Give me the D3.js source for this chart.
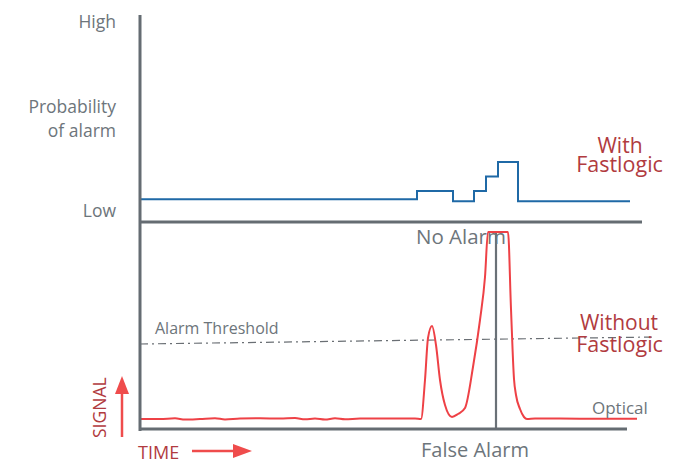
<!DOCTYPE html>
<html>
<head>
<meta charset="utf-8">
<script src="https://cdn.jsdelivr.net/npm/d3@7"></script>
<style>
  html, body { margin: 0; padding: 0; background: #fff; }
  svg { display: block; }
  text { font-family: "Open Sans", "Noto Sans", sans-serif; }
</style>
</head>
<body>
<svg id="chart" width="690" height="463"></svg>
<script>
// ---- data ----
// Probability of alarm with Fastlogic (step line): [time, probability]
const probTime  = [0, 55.4, 62.6, 66.8, 69.2, 71.6, 75.6, 98];
const probValue = [11, 15, 10, 15, 22, 29, 10, 10];

// Optical signal without Fastlogic: [time, signal]
const sigTime  = [0, 4, 7, 9, 12, 15, 17, 20, 24, 28, 31, 33, 35, 37, 39, 41, 44, 48, 52, 55, 56.2,
                  57, 57.6, 58.4, 59.2, 60, 61, 62.4, 63.6, 65, 66.6, 68, 69, 69.6,
                  73.6, 74.2, 74.8, 75.2, 76, 76.8, 77.4, 79, 84, 92, 99.4];
const sigValue = [5, 5, 5.35, 4.75, 5, 5.35, 4.8, 5.25, 5.35, 5.25, 5.5, 4.85, 5.25, 4.75, 5.35, 4.85, 5.25, 5.25, 5.25, 5.25, 5,
                  24.5, 45.5, 51.5, 42, 24.5, 12, 6, 7.5, 10.5, 31, 54.5, 76, 98.5,
                  98.5, 60, 25, 17, 10, 6, 5, 5.2, 5.2, 5.1, 5.1];

// Alarm threshold (dash-dot line): start / end
const thresholdTime  = [0, 103];
const thresholdValue = [42.5, 46];

// False-alarm marker time
const falseAlarmTime = 71.2;

// Labels
const probLabels = ["High", "Probability", "of alarm", "Low"];

// ---- scales ----
const svg = d3.select("#chart");
const x = d3.scaleLinear().domain([0, 100]).range([140, 640]);
const yProb = d3.scaleLinear().domain([0, 100]).range([222, 15]);
const ySig = d3.scaleLinear().domain([0, 100]).range([429, 229]);

const grey = "#656c72";
const textGrey = "#6d757b";
const red = "#ee4146";
const redText = "#b13b40";
const blue = "#1f69a6";

// ---- threshold ----
svg.append("line")
  .attr("x1", x(thresholdTime[0])).attr("y1", ySig(thresholdValue[0]))
  .attr("x2", x(thresholdTime[1])).attr("y2", ySig(thresholdValue[1]))
  .attr("stroke", "#6a6f74").attr("stroke-width", 1.2)
  .attr("stroke-dasharray", "8,4,2,4");

// ---- false alarm marker ----
svg.append("line")
  .attr("x1", x(falseAlarmTime)).attr("x2", x(falseAlarmTime))
  .attr("y1", ySig(98.5)).attr("y2", ySig(0))
  .attr("stroke", "#6a7177").attr("stroke-width", 2.2);

// ---- signal line ----
const sigData = sigTime.map((t, i) => [t, sigValue[i]]);
svg.append("path")
  .datum(sigData)
  .attr("fill", "none")
  .attr("stroke", red)
  .attr("stroke-width", 2)
  .attr("stroke-linejoin", "round")
  .attr("d", d3.line().x(d => x(d[0])).y(d => ySig(d[1])).curve(d3.curveMonotoneX));

// ---- probability step line ----
const probData = probTime.map((t, i) => [t, probValue[i]]);
svg.append("path")
  .datum(probData)
  .attr("fill", "none")
  .attr("stroke", blue)
  .attr("stroke-width", 2)
  .attr("d", d3.line().x(d => x(d[0])).y(d => yProb(d[1])).curve(d3.curveStepAfter));

// ---- axes ----
svg.append("line").attr("x1", 140).attr("x2", 140).attr("y1", yProb(100)).attr("y2", 431)
  .attr("stroke", grey).attr("stroke-width", 3);
svg.append("line").attr("x1", 140).attr("x2", x(100.4)).attr("y1", yProb(0)).attr("y2", yProb(0))
  .attr("stroke", grey).attr("stroke-width", 3);
svg.append("line").attr("x1", 140).attr("x2", x(97.4)).attr("y1", ySig(0)).attr("y2", ySig(0))
  .attr("stroke", grey).attr("stroke-width", 3);

// ---- probability labels ----
const probY = [28, 113, 137, 217];
probLabels.forEach((s, i) => {
  svg.append("text").attr("x", 116).attr("y", probY[i])
    .attr("text-anchor", "end").attr("font-size", 17.5).attr("fill", textGrey).text(s);
});

// ---- series labels ----
function label(str, cx, y, size, color, anchor) {
  return svg.append("text").attr("x", cx).attr("y", y)
    .attr("text-anchor", anchor || "middle").attr("font-size", size).attr("fill", color).text(str);
}
label("With", 620, 153, 21, redText);
label("Fastlogic", 619.5, 172, 21.5, redText);
label("Without", 619, 330, 21, redText);
label("Fastlogic", 619.5, 352, 21.5, redText);
label("No Alarm", 461, 244, 20.5, textGrey);
label("False Alarm", 475, 457, 20, textGrey);
label("Optical", 592, 414, 17, textGrey, "start");
label("Alarm Threshold", 155, 334, 16, textGrey, "start");
label("TIME", 138, 459, 18, redText, "start");

svg.append("text")
  .attr("transform", "translate(106,438) rotate(-90)")
  .attr("font-size", 17.5).attr("fill", redText).text("SIGNAL");

// ---- arrows ----
const arrowRed = "#ef4c4c";
svg.append("line").attr("x1", 122).attr("x2", 122).attr("y1", 437).attr("y2", 392)
  .attr("stroke", arrowRed).attr("stroke-width", 2.5);
svg.append("path").attr("d", "M115,394 L122,376 L129,394 Z").attr("fill", arrowRed);
svg.append("line").attr("x1", 192).attr("x2", 236).attr("y1", 451).attr("y2", 451)
  .attr("stroke", arrowRed).attr("stroke-width", 2.5);
svg.append("path").attr("d", "M233,444 L252,451 L233,458 Z").attr("fill", arrowRed);
</script>
</body>
</html>
